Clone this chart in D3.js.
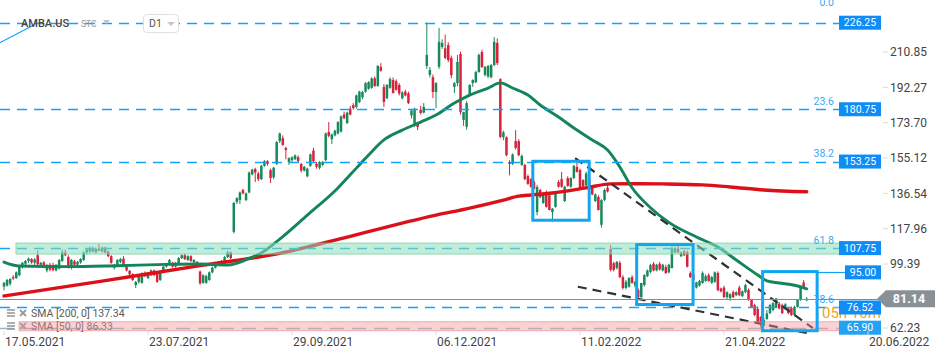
<!DOCTYPE html>
<html><head><meta charset="utf-8">
<script src="https://cdn.jsdelivr.net/npm/d3@7"></script>
<style>html,body{margin:0;padding:0;background:#fff;overflow:hidden}svg{display:block;font-family:Roboto,"Noto Sans",sans-serif}</style>
</head><body><svg id="c" width="949" height="359"></svg>
<script>
// ---- DATA ----
// daily candles [open, high, low, close], first bar = 17.05.2021
const ohlc = [
[87.5,90,85.5,89.5],[88,91.5,87.5,91],[89,92,88,91.5],[92.5,93.5,91,91.8],[92,95.5,91.5,95],
[93.5,98.5,93,98],[98,100.5,97,100],[99.5,101.5,98.5,101],[101,102.8,100,102.2],[102,102.5,99.5,100.2],
[100,102.5,99,101.8],[104,106.5,98.5,99.2],[99,100.5,98,100],[100.2,101,97.5,98],[96,99.5,95,98.5],
[99,100,95.5,96.5],[98.8,100,95.5,96.2],[96,99.3,95.5,99],[97,102,96.5,101.5],[101,107,100.5,105.5],
[105.5,107,103.5,104],[103,104,97,97.5],[97.5,102,96.5,101.5],[100.8,101.5,98.5,99],[99,101,98.3,100.5],
[100.2,102.5,99.5,102],[101.5,106,101,105.5],[105.5,107.5,104.5,107],[106,108.5,105,107.5],[107.5,108.5,105.5,106],
[105.5,108,105,107.3],[107.5,109.8,106,106.5],[106,108.5,105.5,108],[108,108.5,105,105.5],[106,106.5,103,103.5],
[103.5,104,99.5,100],[97.5,99.5,96.5,99],[98.8,102,98,101.5],[100.5,102.5,99.8,102],[102.2,103.5,98,98.5],
[98,98.5,95.5,96],[95.8,96.2,93.5,94],[94,94.5,90.5,91],[88.3,90.5,86.8,89.9],[90,93.5,89,93],
[89.5,95,89,94.5],[94.5,95.5,92.5,93],[92,95,91.5,94.3],[93.5,96.5,93,96],[96,96.5,93,93.5],
[94.6,95,89.5,90],[91,96,90.5,95.5],[95.5,98.5,95,98],[98,100,97.5,99.5],[99.5,102,99,101.5],
[100,100.5,97.5,98],[98,100.5,97.5,100],[99.5,103,99,102.5],[102.5,104.5,102,104],[104,104.8,101.5,102],
[101.5,104,101,103.5],[103.5,104,100.5,101],[100.3,102,99.5,101.5],[100.5,101,99,99.5],[95.4,96,88.5,89.2],
[89.5,94,89,93.5],[89.5,93.8,89,93],[91,95.5,90.5,95],[95,98,94.5,97.5],[97.5,100.5,97,100],
[99.5,101,99,100.5],[100,101.5,99.5,101],[99.5,103.5,99,103],[103,106.5,102.5,105.5],[105.5,106,102,102.5],
[116.3,132,115.5,131.5],[132,134.5,131,134],[133,137.5,131,137],[138.3,139,136,136.5],[133,137,132.5,136.5],
[137,148,136.5,147.5],[146.5,149.5,146,149],[149.3,150,142.5,147.5],[147,148,143,144],[144,151.5,143.5,151],
[151,154,150.5,153.5],[153.5,154,151,152],[148.8,149.5,142,144.6],[145,150.5,144,150],[152,164,151.5,163.5],
[164,168.5,163,168],[165.6,167,161.5,162],[160.4,161,154.5,159.3],[153,155.5,151.5,155],[154,156,153,155.5],
[154.5,157,154,156.5],[155.5,156.5,152.5,153.5],[152,152.5,147.5,148.5],[148.5,151,148,150.5],[145.5,150,145,149.5],
[151,157.5,150.5,157],[159,160.5,152.5,153.5],[152,153,149.5,150.5],[150,153.5,149,153],[151.5,153.5,151,153],
[154,168.5,153.5,168],[168.8,174,166,166.8],[165,168,162.5,167.5],[167,170,166.5,169.5],[168,174.5,167.5,174],
[169,177.5,168.5,177],[178,179.5,175.5,176],[173.5,179.5,173,179],[181,182.5,177.5,178],[182.9,184,180.5,181.4],
[182,188.5,181,188],[184.5,190.5,184,190],[187,190.5,186,189.8],[190,195,189.5,194.5],[191.5,195.5,191,195],
[192,197.5,191.5,197],[197,198,192.5,193],[193,204,192.5,203.5],[203,205,200.5,201],[192.5,194,182,184.6],
[186.6,194,186,193.5],[192,197.5,191.5,196.6],[196.1,197.5,189,189.3],[195.5,196.5,190.5,191],[193.5,194.5,188,189],
[186.5,190.3,186,189.5],[190,191,187.5,188],[189,190,183.5,184],[177.5,181,176,180],[172,181.5,171.5,181],
[173.5,174,169.8,171.4],[180.5,182.5,178,178.8],[179,184,178.5,182],[203.5,226.25,202,209.3],[198.8,203,197.5,201.4],
[197.6,199,186.6,189.8],[189.8,195,181.4,194.5],[203.1,223.5,202,216.2],[213.5,217.5,212.5,215.6],[212.8,220,207,207.7],
[214.5,216,205.5,206.6],[207.7,209,197,198.7],[192.5,195,189.3,194.5],[194.5,209.3,193,205.6],[209.8,211,178,179.3],
[175.1,179.5,172,179.3],[171.5,185,170,184],[188.2,194,187.5,193.5],[194.5,196.5,192.5,196.1],[195,201,194.5,200.3],
[200.3,210,200,209.3],[210.8,212,202.5,202.9],[198.8,203.5,198,203],[198,204,197,203.5],[197.6,204.5,197,204],
[204,218.7,203.5,216.2],[215.6,218,204,205],[196.6,197,165.5,166.2],[166,169.5,164.5,168.6],[166,166.5,156,156.6],
[153,154,146,152],[152,157.5,151.5,157],[164,169.8,159.5,160.4],[164,165,156,156.6],[151.5,157,151,156.2],
[151.5,152,143.5,144],[145.6,146.5,141,141.5],[144.1,144.5,139.5,139.9],[142.5,143.5,138.5,139],[126.7,141,125,139.9],
[138.3,139,134,134.5],[131.5,137,131,136.5],[136.7,138,129,129.4],[135.5,136.5,127.5,127.8],[126.7,128.8,121.5,128.5],
[129.4,137.5,129,137.2],[142.5,143.5,139.5,140],[144,147.8,139.5,140],[132.5,140.5,132,140],[144.5,145.5,140,140.5],
[140,145,139.5,144.6],[144.6,151.5,144,151],[150.4,155,147.5,147.8],[148.8,149.5,139,139.4],[143.5,144,139.5,140],
[140.7,148,140,147],[144,145,139.5,140],[140,140.5,135.5,136],[132.5,136.5,132,136],[134.6,135.5,127.5,127.8],
[120,133.5,118.5,133],[133,139,132.5,138.3],[139.5,141,137,137.5],[107.3,109.5,95.5,96.3],[99.8,100.5,95.5,96.3],
[97.3,101,96.5,100.5],[100,101,92,92.5],[92.5,93.5,86,86.8],[86.8,91,86,90],[87.5,92.5,87,92],
[92.5,93.5,89,89.5],[88,90.5,87,90],[85.7,86.5,81.5,82],[82,89.5,81.5,89.4],[88.3,94,87.5,93.6],
[93,96.5,92.5,96],[95.2,99.5,94.5,98.8],[99.5,100.5,95.5,96],[96,99.5,95.5,99],[99.5,100.5,96,96.5],
[96,99.5,95.5,99],[97.8,99,94.2,94.6],[95,99.5,94.5,99],[97.3,108.5,97,107.8],[105.5,108.5,105,107.7],
[107.5,109,105,105.5],[103.5,106,103,105.5],[106,107,103.5,104],[105.5,106.5,97.5,98],[94.6,95.5,92,92.5],
[93.6,94,90.5,91],[87,90,86.5,89.7],[88,91,87.5,90.5],[89.4,95.5,89,94.7],[90.5,94,90,93],
[93.5,94.5,90,90.5],[89.5,93,89,92.5],[90,95.5,89.5,95],[94.7,95.5,85,85.7],[86.5,87,84.5,85],
[87,88,81.5,82],[82,85,80.5,84.6],[81.5,84,80,83.5],[84.6,85.5,81.5,82],[83,85,82.5,84.6],
[87,88,82.5,83],[82.5,85.5,82,85],[84.6,89,84,88.3],[85.7,86.5,80,80.5],[80.5,81,76.5,76.8],
[77.8,78.5,72,72.6],[75.8,77,68,68.2],[71.5,72,65.9,67.3],[67,71,66.5,70],[70.5,75.2,70,73.4],
[73.6,78.5,73,77.8],[75.2,79.5,74.5,78.8],[76.5,81.5,76,81.3],[78.5,79.5,75.5,76],[77.8,78.5,73,73.6],
[76,78.8,75.5,78.2],[76,76.5,73,73.6],[76.2,77,72,72.6],[72.6,77.5,72,76.8],[76.8,81,76.5,80.5],
[80.5,88,80,87.3],[89.7,91,86.5,86.6],[80.3,82,79.8,81.14]
];
// moving averages (bar index, value)
const sma50Idx = [0,5,21,37,53,64,73,80,84,90,99,109,115,119,124,130,136,141,147,152,158,162,166,171,175,181,186,192,197,201,205,211,217,226,233,239,246,249,253,258,262];
const sma50Val = [100.4,98.3,98.0,98.5,99.2,99.4,98.9,102.3,105.2,112.5,125.1,139.4,149.8,156.7,164.6,169.8,174.0,177.7,184.0,188.2,191.9,194.6,191.9,188.2,183.0,176.7,170.9,164.6,159.3,150.4,139.5,129.0,121.3,113.6,108.3,101.5,93.6,90.5,89.4,88.2,86.33];
const sma200Idx = [0,32,64,75,90,103,141,152,163,168,172,179,190,198,207,215,228,237,248,262];
const sma200Val = [82.6,90.4,98.5,101.1,105,109.9,125.1,128.8,133,135.1,135.7,136.7,139.4,141.5,141.6,141.5,141,139.9,138.3,137.34];

const dateTickIdx = [0,47,94,141,188,235,282];
const dateTickLabels = ["17.05.2021","23.07.2021","29.09.2021","06.12.2021","11.02.2022","21.04.2022","20.06.2022"];
const priceTicks = [210.85,192.27,173.70,155.12,136.54,117.96,99.39,62.23];
const fibLevels = [226.25,180.75,153.25,107.75,76.52];
const fibNames = ["0.0","23.6","38.2","61.8","78.6"];
const lowLevel = 65.90;
const resistLevel = 95.00;
const lastPrice = 81.14;
const smaLegend = ["SMA  [200,  0]  137.34","SMA  [50,  0]  86.33"];
const boxes = [[172.6,191.0,153.4,122.4],[206.5,224.9,109.6,78.1],[247.6,265.4,95.4,64.3]];
const trendLines = [[[186.4,155.1],[264,65.7]],[[187.3,87.45],[262,63.1]]];
const greenZone = [3.9,272.8,110.4,104.6];
const redZone = [4.9,273.8,69.05,64.3];
const fibAnchor = [[-1.5,215.6],[10.1,225.3]];

// ---- CHART ----
const svg = d3.select("#c");
const x = d3.scaleLinear().domain([0,47]).range([4,148]);
const y = d3.scaleLinear().domain([99.39,210.85]).range([264,52]);
const py = v => Math.round(y(v)) + 0.5;
const boxL = 839, boxR = 881;
const blue = "#14a2f5";

svg.append("rect").attr("width",949).attr("height",359).attr("fill","#fff");

// candles
const cg = svg.append("g");
const up = "#18895a", dn = "#d8213a";
ohlc.forEach((d,i)=>{
  const [o,h,l,c] = d, col = c>=o?up:dn, xc = x(i);
  cg.append("line").attr("x1",xc).attr("x2",xc).attr("y1",y(h)).attr("y2",y(l)).attr("stroke",col).attr("stroke-width",1);
  const top = y(Math.max(o,c)), bh = Math.max(1, Math.abs(y(o)-y(c)));
  cg.append("rect").attr("x",xc-1.25).attr("y",top).attr("width",2.5).attr("height",bh).attr("fill",col);
});

// SMAs
const lineGen = d3.line().curve(d3.curveMonotoneX);
svg.append("path").attr("d",lineGen(sma200Idx.map((d,i)=>[x(d),y(sma200Val[i])])))
  .attr("fill","none").attr("stroke","#dc1018").attr("stroke-width",3.4).attr("stroke-linecap","round");
svg.append("path").attr("d",lineGen(sma50Idx.map((d,i)=>[x(d),y(sma50Val[i])])))
  .attr("fill","none").attr("stroke","#13855a").attr("stroke-width",2.9).attr("stroke-linecap","round");

// fib dashed lines
fibLevels.forEach(v=>{
  svg.append("line").attr("x1",0).attr("x2",boxL).attr("y1",py(v)).attr("y2",py(v))
    .attr("stroke",blue).attr("stroke-width",1.3).attr("stroke-dasharray","10,7");
});
svg.append("line").attr("x1",0).attr("x2",boxL).attr("y1",py(lowLevel)).attr("y2",py(lowLevel))
  .attr("stroke","#9db3cc").attr("stroke-width",1.4).attr("stroke-dasharray","14,8");
svg.append("line").attr("x1",x(fibAnchor[0][0])).attr("y1",y(fibAnchor[0][1]))
  .attr("x2",x(fibAnchor[1][0])).attr("y2",y(fibAnchor[1][1])).attr("stroke",blue).attr("stroke-width",1.2);

// trend lines
trendLines.forEach(t=>{
  svg.append("line").attr("x1",x(t[0][0])).attr("y1",y(t[0][1])).attr("x2",x(t[1][0])).attr("y2",y(t[1][1]))
    .attr("stroke","#2e3236").attr("stroke-width",2.2).attr("stroke-dasharray","9,6");
});

// legend
smaLegend.forEach((s,i)=>{
  const cy = 313 + i*13;
  const lg = svg.append("g");
  [-3,0,3].forEach(dy=>lg.append("line").attr("x1",7).attr("x2",15).attr("y1",cy+dy).attr("y2",cy+dy).attr("stroke","#9a9a9a").attr("stroke-width",1.6));
  lg.append("line").attr("x1",20).attr("x2",26).attr("y1",cy-3).attr("y2",cy+3).attr("stroke","#9a9a9a").attr("stroke-width",1.8);
  lg.append("line").attr("x1",26).attr("x2",20).attr("y1",cy-3).attr("y2",cy+3).attr("stroke","#9a9a9a").attr("stroke-width",1.8);
  lg.append("text").attr("x",31).attr("y",cy).attr("dy","0.35em").attr("font-size",10.5).attr("fill","#5a5a5a").text(s);
});

// zones
[[greenZone,"rgba(140,222,186,0.55)","rgba(110,205,160,0.7)"],[redZone,"rgba(240,150,150,0.42)","rgba(235,130,130,0.6)"]].forEach(([z,f,s])=>{
  svg.append("rect").attr("x",x(z[0])).attr("y",y(z[2])).attr("width",x(z[1])-x(z[0])).attr("height",y(z[3])-y(z[2]))
    .attr("fill",f).attr("stroke",s).attr("stroke-width",1);
});

// boxes
boxes.forEach(b=>{
  svg.append("rect").attr("x",x(b[0])).attr("y",y(b[2])).attr("width",x(b[1])-x(b[0])).attr("height",y(b[3])-y(b[2]))
    .attr("fill","none").attr("stroke","#12a5f2").attr("stroke-width",3);
});

// resistance ray
svg.append("line").attr("x1",x(boxes[2][1])).attr("x2",boxL+6).attr("y1",py(resistLevel)).attr("y2",py(resistLevel))
  .attr("stroke",blue).attr("stroke-width",1.2);

// last price line
svg.append("line").attr("x1",0).attr("x2",878).attr("y1",py(lastPrice)).attr("y2",py(lastPrice)).attr("stroke","#848b91").attr("stroke-width",1);

// fib labels
const fibDy = [-20,-8,-8,-8,-8];
fibLevels.forEach((v,i)=>{
  svg.append("text").attr("x",834).attr("y",y(v)+fibDy[i]).attr("dy","0.35em").attr("text-anchor","end")
    .attr("font-size",10.5).attr("fill","#3aa8f3").text(fibNames[i]);
});

// countdown text
svg.append("text").attr("x",822).attr("y",y(lastPrice)+14.5).attr("dy","0.35em").attr("font-size",15).attr("fill","#f5a020").text("05h 10m");

// price boxes
function priceBox(v, col, left){
  const yy = y(v);
  svg.append("rect").attr("x",left).attr("y",yy-7).attr("width",boxR-left).attr("height",14).attr("fill",col);
  svg.append("text").attr("x",(left+boxR)/2).attr("y",yy).attr("dy","0.36em").attr("text-anchor","middle")
    .attr("font-size",10.5).attr("fill","#fff").text(d3.format(".2f")(v));
}
fibLevels.forEach(v=>priceBox(v,"#0f8cf5",boxL));
priceBox(resistLevel,"#0f8cf5",845);
priceBox(lowLevel,"#22a2f2",boxL);

// right axis ticks
priceTicks.forEach(v=>{
  const yy = Math.min(y(v), 328);
  svg.append("line").attr("x1",883).attr("x2",888).attr("y1",yy).attr("y2",yy).attr("stroke","#dcdcdc");
  svg.append("text").attr("x",890).attr("y",yy).attr("dy","0.36em").attr("font-size",12).attr("fill","#444").text(d3.format(".2f")(v));
});

// last price tag
const ly = y(lastPrice);
svg.append("path").attr("d",`M877,${ly} L886,${ly-8.5} L935,${ly-8.5} L935,${ly+8.5} L886,${ly+8.5} Z`).attr("fill","#8a9196");
svg.append("text").attr("x",909).attr("y",ly).attr("dy","0.36em").attr("text-anchor","middle").attr("font-size",12.5)
  .attr("font-weight","bold").attr("fill","#fff").text(d3.format(".2f")(lastPrice));

// bottom axis
dateTickIdx.forEach((d,i)=>{
  svg.append("line").attr("x1",x(d)).attr("x2",x(d)).attr("y1",331).attr("y2",335).attr("stroke","#d8d8d8");
  svg.append("text").attr("x",x(d)+1).attr("y",342).attr("dy","0.36em").attr("font-size",12).attr("fill","#444").text(dateTickLabels[i]);
});

// header
svg.append("text").attr("x",21).attr("y",23).attr("dy","0.36em").attr("font-size",11).attr("font-weight",500).attr("fill","#444").text("AMBA.US");
svg.append("text").attr("x",81).attr("y",24).attr("dy","0.36em").attr("font-size",8.5).attr("fill","#9a9a9a").text("STC");
svg.append("path").attr("d","M103,20 L110,20 L106.5,24 Z").attr("fill","#c4c4c4");
svg.append("rect").attr("x",143.5).attr("y",14.5).attr("width",35).attr("height",18).attr("rx",3).attr("fill","#fff").attr("stroke","#e0e0e0");
svg.append("text").attr("x",149).attr("y",23.5).attr("dy","0.36em").attr("font-size",10.5).attr("fill","#555").text("D1");
svg.append("path").attr("d","M167,22 L175,22 L171,26 Z").attr("fill","#c4c4c4");
</script></body></html>
